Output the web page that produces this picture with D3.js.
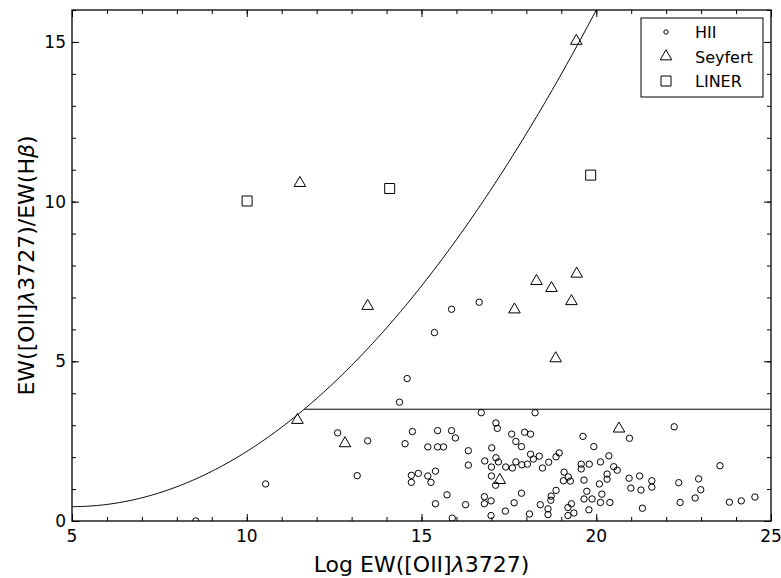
<!DOCTYPE html>
<html lang="en">
  <head>
    <meta charset="UTF-8" />
    <title>EW ratio diagram</title>
    <script src="https://d3js.org/d3.v7.min.js"></script>
    <style>
      body {
        margin: 0;
        background: white;
      }
      text {
        font-family: "DejaVu Sans", sans-serif;
      }
    </style>
  </head>
  <body>
    <script>
      // HII galaxies [x, y]
      const hii = [
        [8.54, 0.0], [10.54, 1.16], [12.6, 2.76], [13.46, 2.51], [13.16, 1.42],
        [14.59, 4.46], [14.37, 3.72], [14.74, 2.8], [14.53, 2.42], [15.18, 2.32],
        [14.71, 1.43], [14.91, 1.49], [14.71, 1.21], [15.18, 1.41], [15.27, 1.21],
        [15.37, 5.9], [15.86, 6.63], [16.65, 6.85],
        [16.71, 3.39], [18.25, 3.39], [17.13, 3.07], [17.17, 2.9], [15.46, 2.83],
        [15.86, 2.83], [15.97, 2.6], [17.58, 2.72], [17.95, 2.78], [18.12, 2.72],
        [17.7, 2.49], [17.86, 2.33], [15.46, 2.32], [15.63, 2.32], [17.01, 2.29],
        [16.34, 2.2], [16.34, 1.75], [16.81, 1.88], [17.13, 1.98], [17.2, 1.85],
        [17.0, 1.69], [17.41, 1.69], [17.6, 1.66], [17.7, 1.85], [17.87, 1.76],
        [18.03, 1.78], [18.12, 2.09], [18.2, 1.94], [18.37, 2.03], [18.46, 1.66],
        [18.64, 1.84], [18.85, 2.01], [18.94, 2.13], [19.08, 1.53], [19.2, 1.38],
        [19.06, 1.26], [19.26, 1.25], [18.85, 0.96], [18.71, 0.78], [18.7, 0.65],
        [18.62, 0.38], [18.62, 0.2], [19.19, 0.42], [19.29, 0.54], [19.19, 0.17],
        [19.36, 0.25], [19.62, 2.65], [19.93, 2.33], [19.57, 1.78], [19.57, 1.63],
        [19.8, 1.78], [20.12, 1.85], [20.36, 2.04], [20.5, 1.7], [20.6, 1.59],
        [20.31, 1.47], [20.31, 1.31], [20.09, 1.16], [19.65, 1.28], [19.73, 0.93],
        [20.16, 0.84], [19.65, 0.69], [19.88, 0.69], [20.12, 0.58], [20.39, 0.58],
        [19.79, 0.35], [18.4, 0.51], [18.09, 0.22], [17.86, 0.87], [17.65, 0.57],
        [17.4, 0.31], [16.99, 0.17], [16.8, 0.76], [16.8, 0.54], [16.99, 0.63],
        [17.0, 1.41], [17.12, 1.12], [16.26, 0.51], [15.73, 0.82], [15.4, 0.54],
        [15.88, 0.09], [15.4, 1.56], [20.95, 2.59], [22.23, 2.95], [23.54, 1.73],
        [20.94, 1.34], [20.99, 1.03], [21.24, 1.41], [21.28, 0.97], [21.32, 0.4],
        [21.59, 1.26], [21.59, 1.06], [22.36, 1.2], [22.4, 0.58], [22.83, 0.72],
        [22.93, 1.32], [22.99, 0.98], [23.81, 0.59], [24.15, 0.63], [24.54, 0.75]
      ];
      const seyfert = [
        [11.45, 3.16], [12.81, 2.43], [17.24, 1.28], [20.65, 2.89], [13.46, 6.73],
        [17.66, 6.62], [18.29, 7.51], [18.72, 7.29], [19.44, 7.74], [19.29, 6.88],
        [18.84, 5.09], [11.52, 10.58], [19.43, 15.03]
      ];
      const liner = [
        [10.01, 10.02], [14.09, 10.41], [19.84, 10.83]
      ];
      // dividing line: y = c0 + c1 * (x - 5)^2, and flat cut at y = 3.5
      const curveC0 = 0.45;
      const curveC1 = 0.0691;
      const cutY = 3.5;

      const xTicks = [5, 10, 15, 20, 25];
      const yTicks = [0, 5, 10, 15];
      const legendNames = ["HII", "Seyfert", "LINER"];

      const W = 781, H = 578;
      const margin = { top: 10, right: 10, bottom: 57, left: 72 };
      const iw = W - margin.left - margin.right;
      const ih = H - margin.top - margin.bottom;

      const svg = d3.select("body").append("svg").attr("width", W).attr("height", H);
      const g = svg.append("g").attr("transform", `translate(${margin.left},${margin.top})`);

      const x = d3.scaleLinear().domain([5, 25]).range([0, iw]);
      const y = d3.scaleLinear().domain([0, 16]).range([ih, 0]);

      g.append("clipPath").attr("id", "clip")
        .append("rect").attr("width", iw).attr("height", ih);
      const plot = g.append("g").attr("clip-path", "url(#clip)");

      // curve
      const curveFn = (v) => curveC0 + curveC1 * (v - 5) * (v - 5);
      const xs = d3.range(5, 25.01, 0.05);
      plot.append("path")
        .datum(xs)
        .attr("fill", "none")
        .attr("stroke", "black")
        .attr("stroke-width", 1)
        .attr("d", d3.line().x((d) => x(d)).y((d) => y(curveFn(d))));

      const xCut = 5 + Math.sqrt((cutY - curveC0) / curveC1);
      plot.append("line")
        .attr("x1", x(xCut)).attr("x2", x(25))
        .attr("y1", y(cutY)).attr("y2", y(cutY))
        .attr("stroke", "black").attr("stroke-width", 1);

      const sym = {
        HII: d3.symbol().type(d3.symbolCircle).size(Math.PI * 3.2 * 3.2),
        Seyfert: d3.symbol().type(d3.symbolTriangle).size(58),
        LINER: d3.symbol().type(d3.symbolSquare).size(100)
      };

      function drawSet(data, key) {
        plot.selectAll(null)
          .data(data)
          .enter()
          .append("path")
          .attr("d", sym[key]())
          .attr("transform", (d) => `translate(${x(d[0])},${y(d[1])})`)
          .attr("fill", "none")
          .attr("stroke", "black")
          .attr("stroke-width", 1);
      }
      drawSet(hii, "HII");
      drawSet(seyfert, "Seyfert");
      drawSet(liner, "LINER");

      // inward ticks on all four sides
      const xMinor = d3.range(5, 26, 1);
      const yMinor = d3.range(0, 17, 1);

      g.append("g").attr("transform", `translate(0,${ih})`)
        .call(d3.axisTop(x).tickValues(xTicks).tickSize(7).tickFormat(""));
      g.append("g").attr("transform", `translate(0,${ih})`)
        .call(d3.axisTop(x).tickValues(xMinor).tickSize(4).tickFormat(""));
      g.append("g").call(d3.axisBottom(x).tickValues(xTicks).tickSize(7).tickFormat(""));
      g.append("g").call(d3.axisBottom(x).tickValues(xMinor).tickSize(4).tickFormat(""));
      g.append("g").call(d3.axisRight(y).tickValues(yTicks).tickSize(7).tickFormat(""));
      g.append("g").call(d3.axisRight(y).tickValues(yMinor).tickSize(4).tickFormat(""));
      g.append("g").attr("transform", `translate(${iw},0)`)
        .call(d3.axisLeft(y).tickValues(yTicks).tickSize(7).tickFormat(""));
      g.append("g").attr("transform", `translate(${iw},0)`)
        .call(d3.axisLeft(y).tickValues(yMinor).tickSize(4).tickFormat(""));
      g.selectAll(".domain").remove();
      g.selectAll(".tick line").attr("stroke-width", 1);

      // tick labels
      g.selectAll(".xlab")
        .data(xTicks)
        .enter()
        .append("text")
        .attr("x", (d) => x(d))
        .attr("y", ih + 21)
        .attr("text-anchor", "middle")
        .attr("font-size", 17)
        .text((d) => d);
      g.selectAll(".ylab")
        .data(yTicks)
        .enter()
        .append("text")
        .attr("x", -6)
        .attr("y", (d) => y(d) + 6)
        .attr("text-anchor", "end")
        .attr("font-size", 17)
        .text((d) => d);

      // frame
      g.append("rect")
        .attr("width", iw).attr("height", ih)
        .attr("fill", "none").attr("stroke", "black").attr("stroke-width", 1.3);

      // axis titles
      const xt = svg.append("text")
        .attr("x", margin.left + iw / 2)
        .attr("y", H - 6)
        .attr("text-anchor", "middle")
        .attr("font-size", 22);
      xt.append("tspan").text("Log EW([OII]");
      xt.append("tspan").attr("font-style", "italic").text("λ");
      xt.append("tspan").text("3727)");

      const yt = svg.append("text")
        .attr("transform", `translate(34,${margin.top + ih / 2}) rotate(-90)`)
        .attr("text-anchor", "middle")
        .attr("font-size", 22);
      yt.append("tspan").text("EW([OII]");
      yt.append("tspan").attr("font-style", "italic").text("λ");
      yt.append("tspan").text("3727)/EW(H");
      yt.append("tspan").attr("font-style", "italic").text("β");
      yt.append("tspan").text(")");

      // legend
      const lg = svg.append("g").attr("transform", "translate(641,18)");
      lg.append("rect")
        .attr("width", 122).attr("height", 79)
        .attr("fill", "white").attr("stroke", "black").attr("stroke-width", 1);
      const legSym = {
        HII: d3.symbol().type(d3.symbolCircle).size(Math.PI * 2.2 * 2.2),
        Seyfert: sym.Seyfert,
        LINER: sym.LINER
      };
      legendNames.forEach((name, i) => {
        const cy = 14 + i * 24.5;
        lg.append("path")
          .attr("d", legSym[name]())
          .attr("transform", `translate(25,${cy})`)
          .attr("fill", "none").attr("stroke", "black").attr("stroke-width", 1);
        lg.append("text")
          .attr("x", 54).attr("y", cy + 6)
          .attr("font-size", 16)
          .text(name);
      });
    </script>
  </body>
</html>
